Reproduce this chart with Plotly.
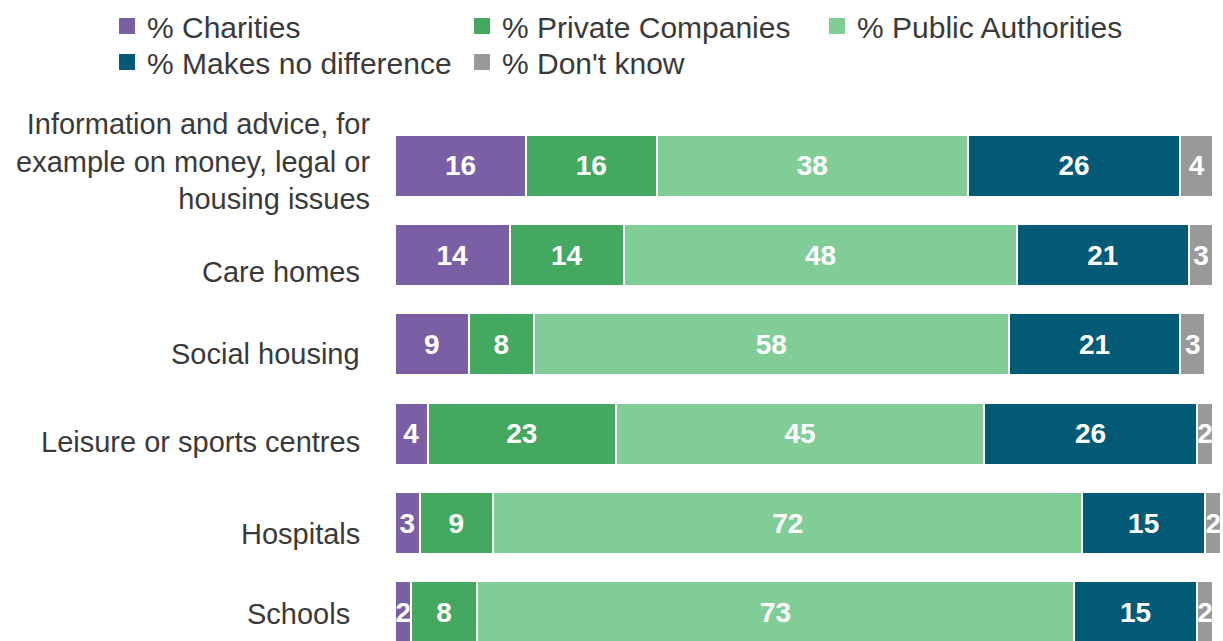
import plotly.graph_objects as go

# Survey: who should provide each service (% of respondents)
services = [
    "Information and advice, for<br>example on money, legal or<br>housing issues",
    "Care homes",
    "Social housing",
    "Leisure or sports centres",
    "Hospitals",
    "Schools",
]
series_names = [
    "% Charities",
    "% Private Companies",
    "% Public Authorities",
    "% Makes no difference",
    "% Don't know",
]
charities = [16, 14, 9, 4, 3, 2]
private_companies = [16, 14, 8, 23, 9, 8]
public_authorities = [38, 48, 58, 45, 72, 73]
no_difference = [26, 21, 21, 26, 15, 15]
dont_know = [4, 3, 3, 2, 2, 2]

series_values = [charities, private_companies, public_authorities, no_difference, dont_know]
colors = ["#7B5FA5", "#45A860", "#80CD98", "#035A76", "#999999"]
# first three entries on the top legend row, the rest on the second
legend_rows = ["legend", "legend", "legend", "legend2", "legend2"]

FONT = "Liberation Sans, Arial, sans-serif"
TEXT_COLOR = "#3a3a3a"

W, H = 1223, 641
M_LEFT, M_TOP = 395, 121
PLOT_W, PLOT_H = W - M_LEFT, H - M_TOP

fig = go.Figure()

for name, vals, col, lg in zip(series_names, series_values, colors, legend_rows):
    fig.add_trace(go.Bar(
        y=services,
        x=vals,
        orientation="h",
        name=name,
        marker=dict(color=col, line=dict(color="white", width=2)),
        text=[str(v) for v in vals],
        textposition="inside",
        insidetextanchor="middle",
        textangle=0,
        textfont=dict(family=FONT, size=28, color="white", weight="bold"),
        hoverinfo="skip",
        showlegend=False,
    ))
    # legend swatch as a plain square marker
    fig.add_trace(go.Scatter(
        x=[None], y=[None],
        mode="markers",
        name=name,
        legend=lg,
        marker=dict(symbol="square", size=16, color=col),
        showlegend=True,
    ))

# category labels, right aligned beside the bars (pixel nudges per row)
label_dx = [-23, -33, -33, -33, -33, -43]
label_dy = [4, -17, -10, -8, -11, -2]
for svc, dx, dy in zip(services, label_dx, label_dy):
    fig.add_annotation(
        x=0, y=svc, xref="x", yref="y",
        text=svc, showarrow=False,
        xanchor="right", yanchor="middle", align="right",
        xshift=dx, yshift=dy,
        font=dict(family=FONT, size=29, color=TEXT_COLOR),
    )

# legends sit above the plot, starting left of the plotting area
legend_common = dict(
    orientation="h",
    xref="paper", yref="paper",
    x=(107 - M_LEFT) / PLOT_W, xanchor="left", yanchor="top",
    entrywidth=310, entrywidthmode="pixels",
    font=dict(family=FONT, size=30, color=TEXT_COLOR),
    bgcolor="rgba(0,0,0,0)",
    traceorder="normal",
)

fig.update_layout(
    barmode="stack",
    bargap=0.306,
    width=W,
    height=H,
    margin=dict(l=M_LEFT, r=0, t=M_TOP, b=0),
    plot_bgcolor="white",
    paper_bgcolor="white",
    font=dict(family=FONT, color=TEXT_COLOR),
    uniformtext=dict(minsize=28, mode="show"),
    legend=dict(legend_common, y=H / PLOT_H),
    legend2=dict(legend_common, y=(H - 36) / PLOT_H),
    xaxis=dict(range=[0, 101.2], visible=False, fixedrange=True),
    yaxis=dict(
        categoryorder="array", categoryarray=services,
        range=[5.319, -0.5],
        showticklabels=False, showgrid=False, zeroline=False,
        fixedrange=True,
    ),
)

fig.write_html("out.html")
